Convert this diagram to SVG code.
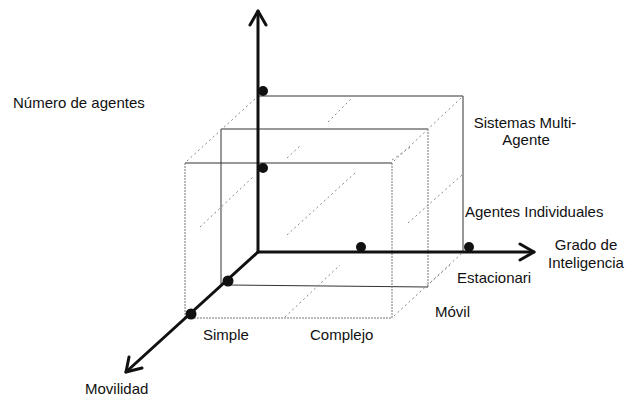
<svg xmlns="http://www.w3.org/2000/svg" width="626" height="400" viewBox="0 0 626 400">
  <style>
    .lbl { font-family: "Liberation Sans", Arial, sans-serif; font-size: 15px; fill: #111; }
    .axis { stroke: #111; stroke-width: 3; fill: none; stroke-linecap: round; stroke-linejoin: round; }
    .edge { stroke: #333; stroke-width: 1; fill: none; }
    .edge-dot { stroke: #777; stroke-width: 1; fill: none; stroke-dasharray: 2 1; }
    .diag { stroke: #888; stroke-width: 1; fill: none; stroke-dasharray: 2 3; }
    .pt { fill: #111; }
  </style>

  <rect width="626" height="400" fill="#fff"/>

  <!-- boxes: three nested volumes -->
  <g id="box-outer">
    <line class="edge" x1="258" y1="96" x2="463" y2="96"/>
    <line class="edge" x1="463" y1="96" x2="463" y2="252"/>
  </g>
  <g id="box-middle">
    <line class="edge" x1="221" y1="129" x2="428" y2="129"/>
    <line class="edge" x1="221" y1="129" x2="221" y2="285"/>
    <line class="edge-dot" x1="428" y1="129" x2="428" y2="287"/>
    <line class="edge" x1="228" y1="285" x2="428" y2="287"/>
  </g>
  <g id="box-inner">
    <line class="edge" x1="185" y1="163" x2="392" y2="163"/>
    <line class="edge-dot" x1="185" y1="163" x2="185" y2="318"/>
    <line class="edge-dot" x1="392" y1="163" x2="392" y2="318"/>
    <line class="edge-dot" x1="185" y1="318" x2="392" y2="318"/>
  </g>

  <!-- receding depth lines -->
  <g id="depth-lines">
    <line class="diag" x1="187" y1="161" x2="256" y2="98"/>
    <line class="diag" x1="394" y1="161" x2="461" y2="98"/>
    <line class="diag" x1="394" y1="316" x2="461" y2="254"/>
    <line class="diag" x1="328" y1="122" x2="352" y2="98"/>
    <line class="diag" x1="287" y1="158" x2="300" y2="146"/>
    <line class="diag" x1="392" y1="160" x2="412" y2="146"/>
    <line class="diag" x1="200" y1="227" x2="253" y2="177"/>
    <line class="diag" x1="287" y1="235" x2="355" y2="173"/>
    <line class="diag" x1="408" y1="223" x2="462" y2="175"/>
    <line class="diag" x1="285" y1="317" x2="340" y2="265"/>
    <line class="diag" x1="430" y1="283" x2="450" y2="265"/>
  </g>

  <!-- axes -->
  <g id="connectors">
    <line class="axis" x1="258" y1="252" x2="258" y2="11"/>
    <polyline class="axis" points="250,25 258,11 266,25"/>
    <line class="axis" x1="258" y1="252" x2="534" y2="252"/>
    <polyline class="axis" points="520,244 534,252 520,260"/>
    <line class="axis" x1="258" y1="252" x2="126" y2="372"/>
    <polyline class="axis" points="129,357 126,372 142,368"/>
  </g>

  <!-- axis points -->
  <g id="points">
    <circle class="pt" cx="263" cy="91" r="5"/>
    <circle class="pt" cx="263" cy="168" r="5"/>
    <circle class="pt" cx="361" cy="247" r="5"/>
    <circle class="pt" cx="469" cy="247" r="5"/>
    <circle class="pt" cx="228" cy="281" r="5.5"/>
    <circle class="pt" cx="191" cy="314" r="5.5"/>
  </g>

  <!-- labels -->
  <g id="labels">
    <text class="lbl" x="13" y="108">Número de agentes</text>
    <text class="lbl" x="525" y="128" text-anchor="middle">Sistemas Multi-</text>
    <text class="lbl" x="526" y="145" text-anchor="middle">Agente</text>
    <text class="lbl" x="465" y="217">Agentes Individuales</text>
    <text class="lbl" x="586" y="250" text-anchor="middle">Grado de</text>
    <text class="lbl" x="586" y="268" text-anchor="middle">Inteligencia</text>
    <text class="lbl" x="457" y="283">Estacionari</text>
    <text class="lbl" x="435" y="317">Móvil</text>
    <text class="lbl" x="203" y="340">Simple</text>
    <text class="lbl" x="310" y="340">Complejo</text>
    <text class="lbl" x="85" y="394">Movilidad</text>
  </g>
</svg>
